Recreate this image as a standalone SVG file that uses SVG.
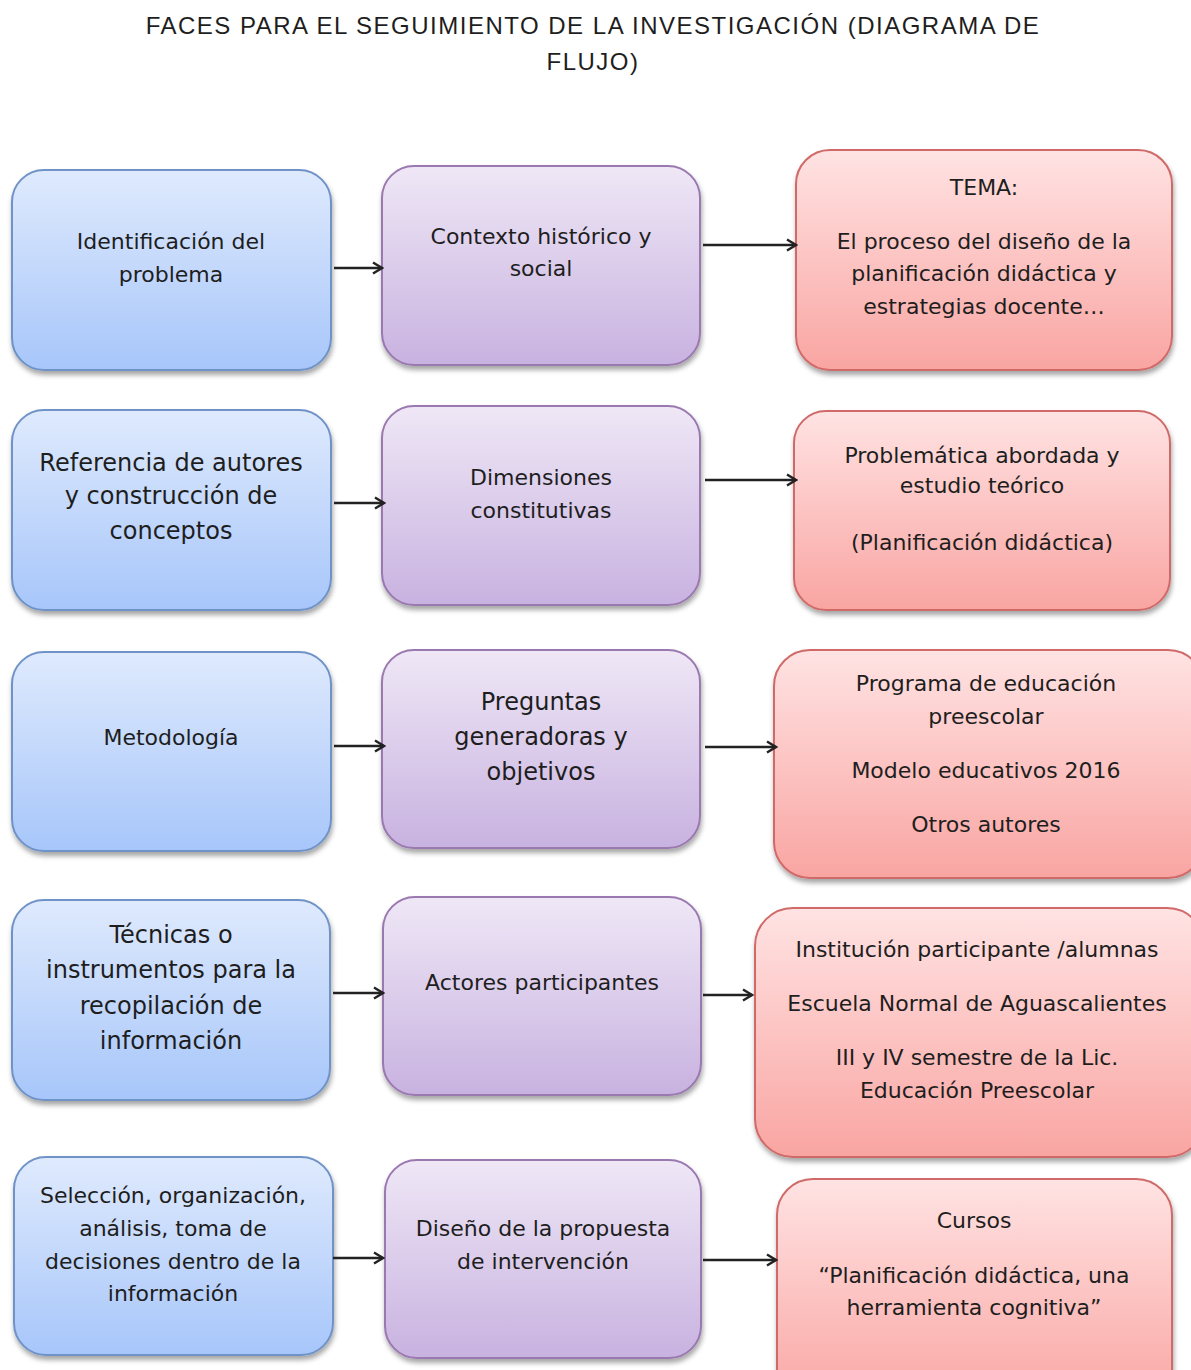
<svg xmlns="http://www.w3.org/2000/svg" width="1191" height="1370" viewBox="0 0 1191 1370">
<defs>
<linearGradient id="gb" x1="0" y1="0" x2="0" y2="1"><stop offset="0" stop-color="#dfeafd"/><stop offset="1" stop-color="#a7c6fa"/></linearGradient>
<linearGradient id="gp" x1="0" y1="0" x2="0" y2="1"><stop offset="0" stop-color="#efe7f6"/><stop offset="1" stop-color="#c8b2e0"/></linearGradient>
<linearGradient id="gr" x1="0" y1="0" x2="0" y2="1"><stop offset="0" stop-color="#ffe3e3"/><stop offset="1" stop-color="#f9a5a2"/></linearGradient>
<filter id="sh" x="-10%" y="-10%" width="120%" height="125%"><feDropShadow dx="1" dy="4" stdDeviation="2.5" flood-color="#000" flood-opacity="0.35"/></filter>
<marker id="ar" viewBox="0 0 14 14" refX="12" refY="7" markerWidth="14" markerHeight="14" markerUnits="userSpaceOnUse" orient="auto"><path d="M3,1.5 L12,7 L3,12.5" fill="none" stroke="#222" stroke-width="2.4"/></marker>
</defs>
<style>
.b{fill:url(#gb);stroke:#6f93c7;stroke-width:2;filter:url(#sh)}
.p{fill:url(#gp);stroke:#9a79b0;stroke-width:2;filter:url(#sh)}
.r{fill:url(#gr);stroke:#cf6b69;stroke-width:2;filter:url(#sh)}
text{font-family:"DejaVu Sans","Liberation Sans",sans-serif;font-size:22px;fill:#1e1e1e;text-anchor:middle}
.big{font-size:24px}
.t{font-family:"Liberation Sans",Arial,sans-serif;font-size:24px;letter-spacing:1.5px}
.c{stroke:#222;stroke-width:2.4;fill:none;marker-end:url(#ar)}
</style>
<rect width="1191" height="1370" fill="#fff"/>
<g id="title">
<text class="t" x="593" y="34">FACES PARA EL SEGUIMIENTO DE LA INVESTIGACIÓN (DIAGRAMA DE</text>
<text class="t" x="593" y="70">FLUJO)</text>
</g>
<g id="n1"><rect class="b" x="12" y="170" width="319" height="200" rx="32"/><text x="171" y="249">Identificación del</text><text x="171" y="282">problema</text></g>
<g id="n2"><rect class="p" x="382" y="166" width="318" height="199" rx="32"/><text x="541" y="244">Contexto histórico y</text><text x="541" y="276">social</text></g>
<g id="n3"><rect class="r" x="796" y="150" width="376" height="220" rx="34"/><text x="984" y="195">TEMA:</text><text x="984" y="249">El proceso del diseño de la</text><text x="984" y="281">planificación didáctica y</text><text x="984" y="314">estrategias docente…</text></g>
<g id="n4"><rect class="b" x="12" y="410" width="319" height="200" rx="32"/><text class="big" x="171" y="471">Referencia de autores</text><text class="big" x="171" y="504">y construcción de</text><text class="big" x="171" y="539">conceptos</text></g>
<g id="n5"><rect class="p" x="382" y="406" width="318" height="199" rx="32"/><text x="541" y="485">Dimensiones</text><text x="541" y="518">constitutivas</text></g>
<g id="n6"><rect class="r" x="794" y="411" width="376" height="199" rx="32"/><text x="982" y="463">Problemática abordada y</text><text x="982" y="493">estudio teórico</text><text x="982" y="550">(Planificación didáctica)</text></g>
<g id="n7"><rect class="b" x="12" y="652" width="319" height="199" rx="32"/><text x="171" y="745">Metodología</text></g>
<g id="n8"><rect class="p" x="382" y="650" width="318" height="198" rx="32"/><text class="big" x="541" y="710">Preguntas</text><text class="big" x="541" y="745">generadoras y</text><text class="big" x="541" y="780">objetivos</text></g>
<g id="n9"><rect class="r" x="774" y="650" width="430" height="228" rx="36"/><text x="986" y="691">Programa de educación</text><text x="986" y="724">preescolar</text><text x="986" y="778">Modelo educativos 2016</text><text x="986" y="832">Otros autores</text></g>
<g id="n10"><rect class="b" x="12" y="900" width="318" height="200" rx="32"/><text class="big" x="171" y="943">Técnicas o</text><text class="big" x="171" y="978">instrumentos para la</text><text class="big" x="171" y="1014">recopilación de</text><text class="big" x="171" y="1049">información</text></g>
<g id="n11"><rect class="p" x="383" y="897" width="318" height="198" rx="32"/><text x="542" y="990">Actores participantes</text></g>
<g id="n12"><rect class="r" x="755" y="908" width="450" height="249" rx="38"/><text x="977" y="957">Institución participante /alumnas</text><text x="977" y="1011">Escuela Normal de Aguascalientes</text><text x="977" y="1065">III y IV semestre de la Lic.</text><text x="977" y="1098">Educación Preescolar</text></g>
<g id="n13"><rect class="b" x="14" y="1157" width="319" height="198" rx="32"/><text x="173" y="1203">Selección, organización,</text><text x="173" y="1236">análisis, toma de</text><text x="173" y="1269">decisiones dentro de la</text><text x="173" y="1301">información</text></g>
<g id="n14"><rect class="p" x="385" y="1160" width="316" height="198" rx="32"/><text x="543" y="1236">Diseño de la propuesta</text><text x="543" y="1269">de intervención</text></g>
<g id="n15"><rect class="r" x="777" y="1179" width="395" height="230" rx="36"/><text x="974" y="1228">Cursos</text><text x="974" y="1283">“Planificación didáctica, una</text><text x="974" y="1315">herramienta cognitiva”</text></g>
<g id="connectors">
<path class="c" d="M334,268 H382"/>
<path class="c" d="M703,245 H796"/>
<path class="c" d="M334,503 H384"/>
<path class="c" d="M705,480 H796"/>
<path class="c" d="M334,746 H384"/>
<path class="c" d="M705,747 H776"/>
<path class="c" d="M333,993 H383"/>
<path class="c" d="M703,995 H752"/>
<path class="c" d="M333,1258 H383"/>
<path class="c" d="M703,1260 H776"/>
</g>
</svg>
